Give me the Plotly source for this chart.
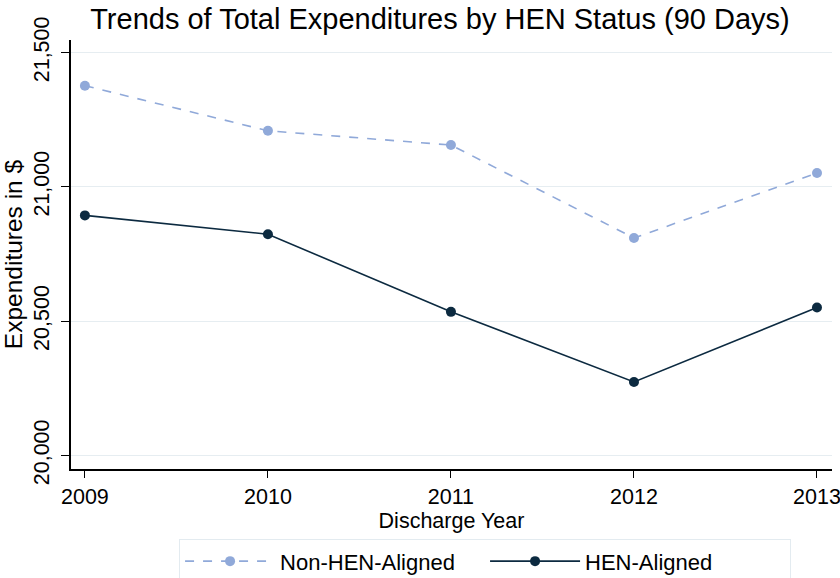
import plotly.graph_objects as go

years = [2009, 2010, 2011, 2012, 2013]
non_hen = [21377, 21209, 21156, 20810, 21052]
hen = [20894, 20824, 20535, 20274, 20551]
y_ticks = [20000, 20500, 21000, 21500]
y_tick_labels = ["20,000", "20,500", "21,000", "21,500"]

FONT = "Liberation Sans, Arial, sans-serif"
LIGHT = "#90a9d9"
DARK = "#0c2a40"

fig = go.Figure()
fig.add_trace(go.Scatter(
    x=years, y=non_hen, name="Non-HEN-Aligned", mode="lines+markers",
    line=dict(color=LIGHT, width=1.6, dash="dash"),
    marker=dict(color=LIGHT, size=10),
))
fig.add_trace(go.Scatter(
    x=years, y=hen, name="HEN-Aligned", mode="lines+markers",
    line=dict(color=DARK, width=1.6),
    marker=dict(color=DARK, size=10),
))

fig.update_layout(
    width=840, height=578,
    margin=dict(l=70.5, r=8, t=40, b=109.3, autoexpand=False),
    paper_bgcolor="white", plot_bgcolor="white",
    font=dict(family=FONT, size=21, color="black"),
    title=dict(text="Trends of Total Expenditures by HEN Status (90 Days)",
               x=0.5238, xanchor="center", y=0.9666, yanchor="middle",
               font=dict(size=29, family=FONT, color="black")),
    showlegend=True,
    legend=dict(orientation="h", x=0.142, xanchor="left", y=-0.164, yanchor="top",
                bordercolor="#e3ebf0", borderwidth=1, font=dict(size=22),
                itemwidth=90, entrywidth=200, entrywidthmode="pixels"),
)
fig.update_xaxes(
    range=[2008.924, 2013.082], tickvals=years, ticktext=[str(y) for y in years],
    showline=True, linecolor="black", linewidth=1.5, ticks="outside", ticklen=7,
    tickcolor="black", showgrid=False, zeroline=False, automargin=False,
    ticklabeloverflow="allow",
    title=dict(text="Discharge Year", standoff=0, font=dict(size=21.5)),
    tickfont=dict(size=21.5),
)
fig.update_yaxes(
    range=[19950, 21547], tickvals=y_ticks, ticktext=y_tick_labels, tickangle=-90,
    showline=True, linecolor="black", linewidth=1.5, ticks="outside", ticklen=8,
    tickcolor="black", showgrid=True, gridcolor="#e6edf1", gridwidth=1, zeroline=False,
    automargin=False, ticklabelstandoff=4, ticklabeloverflow="allow",
    title=dict(text="Expenditures in $", standoff=0, font=dict(size=24.5)),
    tickfont=dict(size=21.5),
)

# remove the browser's default 8px page margin so the figure fills the window
fig.write_html("out.html", config={"displayModeBar": False},
               post_script="document.body.style.margin='0px';")
